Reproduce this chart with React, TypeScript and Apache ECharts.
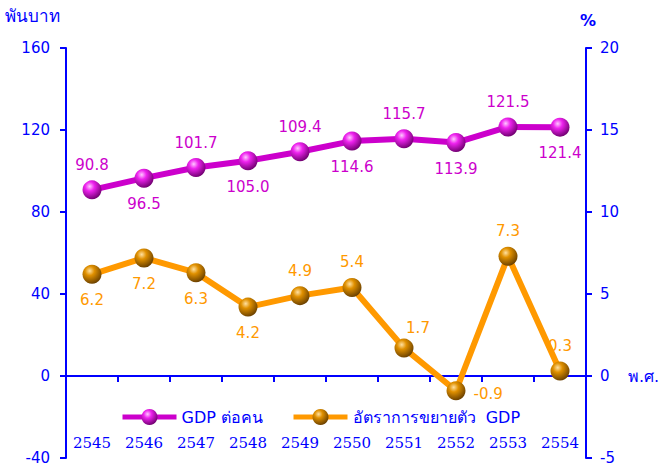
import React, { useEffect, useRef } from "react";
import * as echarts from "echarts";

const years = ["2545", "2546", "2547", "2548", "2549", "2550", "2551", "2552", "2553", "2554"];
const gdpPerCapita = [90.8, 96.5, 101.7, 105.0, 109.4, 114.6, 115.7, 113.9, 121.5, 121.4];
const gdpGrowth = [6.2, 7.2, 6.3, 4.2, 4.9, 5.4, 1.7, -0.9, 7.3, 0.3];
const leftTicks = { min: -40, max: 160, interval: 40 };
const rightTicks = { min: -5, max: 20, interval: 5 };
const seriesNames = ["GDP ต่อคน", "อัตราการขยายตัว  GDP"];

const purplePos = ["top", "bottom", "top", "bottom", "top", "bottom", "top", "bottom", "top", "bottom"];
const orangePos = ["bottom", "bottom", "bottom", "bottom", "top", "top", "topRight", "right", "top", "top"];

const BLUE = "#0000FF";
const PURPLE = "#CC00CC";
const ORANGE = "#FF9900";
const FONT = "'DejaVu Sans', Tahoma, sans-serif";

const purpleBall = new echarts.graphic.RadialGradient(0.38, 0.32, 0.7, [
  { offset: 0, color: "#FFC8FF" },
  { offset: 0.35, color: "#EE22EE" },
  { offset: 1, color: "#700070" },
]);
const orangeBall = new echarts.graphic.RadialGradient(0.38, 0.32, 0.7, [
  { offset: 0, color: "#FFE0A0" },
  { offset: 0.35, color: "#E09000" },
  { offset: 1, color: "#6A4000" },
]);

function labelFor(pos: string, color: string) {
  const base: any = {
    show: true,
    color,
    fontSize: 15,
    fontFamily: FONT,
    formatter: (p: any) => Number(p.value).toFixed(1),
  };
  if (pos === "top") return { ...base, position: "top", distance: 8 };
  if (pos === "bottom") return { ...base, position: "bottom", distance: 9 };
  if (pos === "topRight") return { ...base, position: "top", distance: 3, offset: [14, 0] };
  if (pos === "right") return { ...base, position: "right", distance: 8, offset: [0, 3] };
  return base;
}

const legendBase = {
  top: 404,
  itemWidth: 54,
  itemHeight: 20,
  lineStyle: { width: 5 },
  textStyle: { color: BLUE, fontSize: 16, fontFamily: FONT },
};

export default function App() {
  const ref = useRef<HTMLDivElement>(null);
  useEffect(() => {
    if (!ref.current) return;
    const chart = echarts.init(ref.current, undefined, { renderer: "svg" });
    chart.setOption({
      animation: false,
      backgroundColor: "#FFFFFF",
      grid: { left: 66, right: 82, top: 48, bottom: 8, containLabel: false, outerBoundsMode: "none" },
      legend: [
        { ...legendBase, left: 115, data: [seriesNames[0]] },
        { ...legendBase, left: 286, data: [seriesNames[1]] },
      ],
      xAxis: [
        {
          type: "category",
          data: years,
          boundaryGap: true,
          axisLine: { onZero: true, onZeroAxisIndex: 0, lineStyle: { color: BLUE, width: 2 } },
          axisTick: { show: true, length: 6, inside: false, lineStyle: { color: BLUE, width: 2 } },
          axisLabel: { show: false },
          splitLine: { show: false },
        },
        {
          type: "category",
          data: years,
          boundaryGap: true,
          position: "bottom",
          axisLine: { show: false, onZero: false },
          axisTick: { show: false },
          axisLabel: {
            color: BLUE,
            fontSize: 15,
            fontFamily: "'DejaVu Serif', 'Liberation Serif', serif",
            margin: -23,
          },
          splitLine: { show: false },
        },
      ],
      yAxis: [
        {
          type: "value",
          ...leftTicks,
          position: "left",
          axisLine: { show: true, lineStyle: { color: BLUE, width: 2 } },
          axisTick: { show: true, length: 6, lineStyle: { color: BLUE, width: 2 } },
          axisLabel: { color: BLUE, fontSize: 15, lineHeight: 13, fontFamily: FONT, margin: 16 },
          splitLine: { show: false },
        },
        {
          type: "value",
          ...rightTicks,
          position: "right",
          axisLine: { show: true, lineStyle: { color: BLUE, width: 2 } },
          axisTick: { show: true, length: 6, lineStyle: { color: BLUE, width: 2 } },
          axisLabel: { color: BLUE, fontSize: 15, lineHeight: 13, fontFamily: FONT, margin: 14 },
          splitLine: { show: false },
        },
      ],
      graphic: [
        { type: "text", left: 5, top: 7, style: { text: "พันบาท", fill: BLUE, fontSize: 17, fontFamily: FONT } },
        { type: "text", left: 580, top: 12, style: { text: "%", fill: BLUE, fontSize: 16, fontWeight: "bold", fontFamily: FONT } },
        { type: "text", left: 628, top: 368, style: { text: "พ.ศ.", fill: BLUE, fontSize: 16, fontFamily: FONT } },
      ],
      series: [
        {
          name: seriesNames[0],
          type: "line",
          xAxisIndex: 0,
          yAxisIndex: 0,
          data: gdpPerCapita.map((v, i) => ({ value: v, label: labelFor(purplePos[i], PURPLE) })),
          symbol: "circle",
          symbolSize: 19,
          lineStyle: { color: PURPLE, width: 6 },
          itemStyle: { color: purpleBall, borderWidth: 0 },
          z: 3,
        },
        {
          name: seriesNames[1],
          type: "line",
          xAxisIndex: 0,
          yAxisIndex: 1,
          data: gdpGrowth.map((v, i) => ({ value: v, label: labelFor(orangePos[i], ORANGE) })),
          symbol: "circle",
          symbolSize: 19,
          lineStyle: { color: ORANGE, width: 6 },
          itemStyle: { color: orangeBall, borderWidth: 0 },
          z: 3,
        },
      ],
    });
    return () => chart.dispose();
  }, []);
  return <div ref={ref} style={{ width: 668, height: 466, position: "absolute", left: 0, top: 0 }} />;
}
